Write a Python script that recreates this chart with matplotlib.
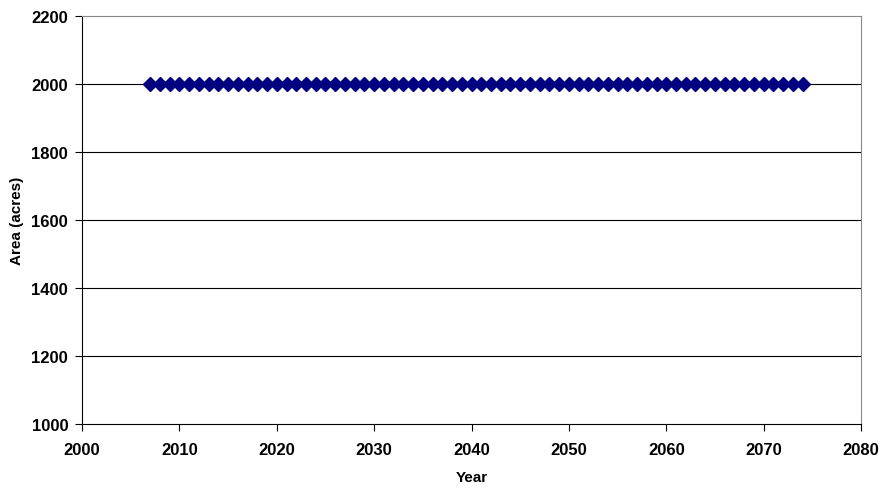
import matplotlib
matplotlib.use("Agg")
import matplotlib.pyplot as plt

plt.rcParams['font.family'] = ['Liberation Sans', 'DejaVu Sans']

years = list(range(2007, 2075))
area = [2000] * len(years)

x_ticks = list(range(2000, 2081, 10))
y_ticks = list(range(1000, 2201, 200))

fig = plt.figure(figsize=(8.81, 4.89), dpi=100)
ax = fig.add_axes([0.0931, 0.1309, 0.8842, 0.8343])

for y in y_ticks[1:-1]:
    ax.axhline(y, color='black', linewidth=0.8, zorder=1)

ax.plot(years, area, linestyle='none', marker='D', markersize=7,
        color='#000080', markeredgecolor='#000080', zorder=3)

ax.set_xlim(2000, 2080)
ax.set_ylim(1000, 2200)
ax.set_xticks(x_ticks)
ax.set_yticks(y_ticks)
ax.tick_params(direction='out', length=5, width=0.8, labelsize=12)
ax.tick_params(axis='x', pad=8)
ax.tick_params(axis='y', pad=5)
for lbl in ax.get_xticklabels() + ax.get_yticklabels():
    lbl.set_fontweight('bold')

ax.spines['left'].set_color('black')
ax.spines['bottom'].set_color('black')
ax.spines['top'].set_color('#888888')
ax.spines['right'].set_color('#888888')

ax.set_xlabel('Year', fontsize=11, fontweight='bold', labelpad=9)
ax.set_ylabel('Area (acres)', fontsize=11, fontweight='bold', labelpad=5)

fig.savefig('out.png', dpi=100)
